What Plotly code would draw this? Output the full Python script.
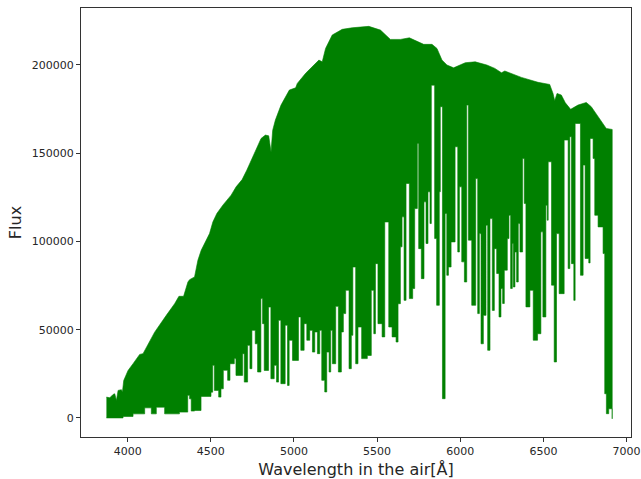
import plotly.graph_objects as go

# Upper contour of the densely drawn spectrum
wave_top = [3872,3892,3912,3922,3932,3942,3962,3968,3976,4002,4032,4072,4092,4112,4162,4232,4282,4308,4336,4362,4372,4402,4422,4442,4492,4512,4536,4572,4622,4652,4688,4716,4742,4772,4802,4828,4848,4862,4872,4888,4922,4972,5010,5020,5070,5150,5170,5190,5230,5290,5350,5450,5520,5580,5640,5694,5780,5830,5860,5890,5920,5960,6030,6090,6160,6208,6248,6268,6368,6468,6538,6558,6568,6582,6608,6632,6664,6708,6758,6788,6838,6878,6914]
flux_top = [11800,11400,13300,13700,9900,15600,16000,14600,21200,26900,30700,36000,36400,40100,48600,58100,64700,68900,68900,77000,78300,79900,89300,95000,104400,111000,115800,120500,126200,130900,135000,140300,146000,151700,158300,160200,159800,150700,163000,168700,177200,185700,187000,189500,195200,202700,201700,209300,216900,220100,221000,221800,219700,214400,214400,215300,211600,211600,209300,202700,199900,198300,201200,201700,199900,198000,195500,196500,192900,190100,188900,183800,179700,183800,182900,178500,174800,177200,178700,176300,169700,164000,163400]

# Lower contour of the spectrum (absorption lines)
wave_low = [3872,3972,4032,4092,4102,4142,4172,4222,4311,4361,4372,4382,4402,4441,4501,4511,4521,4547,4561,4575,4601,4615,4641,4651,4691,4701,4721,4735,4747,4767,4781,4801,4811,4821,4847,4861,4881,4895,4907,4921,4947,4961,4971,4991,5027,5041,5061,5077,5095,5111,5125,5141,5155,5167,5185,5197,5211,5221,5231,5251,5267,5285,5297,5311,5331,5345,5354,5371,5385,5407,5441,5465,5480,5490,5505,5530,5546,5570,5590,5614,5626,5640,5650,5662,5674,5694,5714,5726,5742,5750,5766,5782,5794,5806,5818,5826,5846,5858,5874,5880,5893,5909,5919,5929,5945,5969,5985,5995,6009,6025,6039,6049,6069,6093,6105,6115,6125,6139,6155,6165,6179,6193,6205,6219,6233,6245,6255,6265,6283,6293,6303,6313,6319,6329,6339,6349,6359,6375,6385,6395,6419,6439,6465,6485,6497,6515,6523,6529,6549,6565,6579,6595,6625,6649,6659,6669,6683,6691,6723,6739,6751,6773,6781,6799,6809,6829,6859,6869,6879,6893,6914]
flux_low = [0,800,2300,2300,5700,2300,6100,2300,3300,12800,10800,3900,4200,12200,14600,29800,15600,11800,16500,27000,21300,30700,33600,24100,36400,20300,41100,27900,49600,42000,26000,67600,53400,26900,62800,22200,29800,20300,55300,19400,52500,18400,44000,32600,57200,38300,53400,44000,49600,37300,48700,36400,49600,21300,14700,37300,26000,49600,30700,63200,26000,48700,59100,72300,27900,46800,85500,30700,51500,33600,35400,72300,47700,87400,53400,45900,111000,51500,45900,43000,64700,96900,113900,66600,132800,67600,73300,118600,155500,95900,78900,122400,98800,128100,110100,188500,101600,63800,128100,176300,10900,115800,80800,85500,99700,153600,94000,130900,88400,77000,177200,100700,63800,135600,59100,104400,42000,58100,109200,38300,112900,60900,95900,81800,57200,73300,64800,83700,101600,114800,73300,98800,74200,94000,77000,110100,94000,147000,121500,62900,72300,44000,47700,105400,57200,120500,112000,145100,75200,31700,104400,70400,157400,84600,159300,87400,66600,166800,80800,143200,90300,87800,158300,147000,114800,108200,93100,13700,2400,5200,-500]

x_ticks = [4000,4500,5000,5500,6000,6500,7000]
y_ticks = [0,50000,100000,150000,200000]

# Vertical edges on the lower contour, as in a spectrum drawn sample by sample
step_x, step_y = [], []
for i, (w, f) in enumerate(zip(wave_low, flux_low)):
    step_x.append(w)
    step_y.append(f)
    if i + 1 < len(wave_low):
        step_x.append(wave_low[i + 1])
        step_y.append(f)

fig = go.Figure(go.Scatter(
    x=wave_top + step_x[::-1],
    y=flux_top + step_y[::-1],
    mode="lines",
    fill="toself",
    fillcolor="#008000",
    line=dict(color="#008000", width=0.6),
    hoverinfo="skip",
    showlegend=False,
))

axis_common = dict(
    showgrid=False, zeroline=False, showline=True, mirror=True,
    linecolor="#333333", linewidth=1, ticks="outside", ticklen=4,
    tickwidth=1, tickcolor="#333333",
    tickfont=dict(family="DejaVu Sans", size=11, color="#262626"),
    ticklabeloverflow="allow",
)
fig.update_layout(
    width=641, height=479, autosize=False,
    margin=dict(l=81, r=1, t=8, b=42),
    plot_bgcolor="white", paper_bgcolor="white",
    font=dict(family="DejaVu Sans", color="#262626"),
    xaxis=dict(range=[3719, 7027], tickvals=x_ticks, ticktext=[str(v) for v in x_ticks],
               title=dict(text="Wavelength in the air[Å]", font=dict(size=16), standoff=7), **axis_common),
    yaxis=dict(range=[-10800, 232200], tickvals=y_ticks, ticktext=[str(v) for v in y_ticks],
               title=dict(text="Flux", font=dict(size=16), standoff=6), **axis_common),
)
fig.write_html("out.html", config={"displayModeBar": False},
               post_script="document.body.style.margin='0';document.documentElement.style.overflow='hidden';")
